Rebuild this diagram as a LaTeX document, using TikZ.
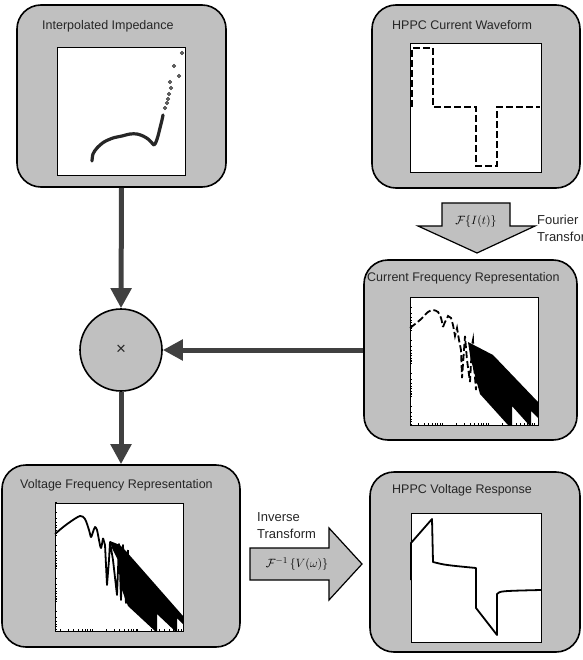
\documentclass[tikz,border=0pt]{standalone}
\usepackage{fontspec}
\setmainfont{Liberation Sans}
\usetikzlibrary{arrows.meta}

\definecolor{panelgray}{RGB}{192,192,192}
\definecolor{flowgray}{RGB}{64,64,64}

\tikzset{
    panel/.style={draw=black, line width=1.6pt, fill=panelgray, rounded corners=24pt, inner sep=0pt},
    plotarea/.style={draw=black, line width=0.8pt, fill=white, inner sep=0pt},
    paneltitle/.style={font=\fontsize{12.5}{15}\selectfont, text=black!85, anchor=west, inner sep=0pt},
    sidetext/.style={font=\fontsize{13}{17}\selectfont, text=black!85, align=left, inner sep=0pt},
    flow/.style={draw=flowgray, line width=5pt, -{Triangle[length=20pt,width=20pt]}},
    blockarrow/.style={draw=black, line width=1.2pt, fill=panelgray},
    curve/.style={black, line width=1.8pt, line join=round},
    dcurve/.style={black, line width=1.8pt, dash pattern=on 7pt off 3pt},
    tick/.style={black, line width=0.4pt}
}

\begin{document}
\begin{tikzpicture}[x=1pt,y=-1pt]
    \useasboundingbox (0,0) rectangle (582,660);

    % panels
    \node[panel, minimum width=209pt, minimum height=182pt] (imp) at (121.5,96) {};
    \node[panel, minimum width=208pt, minimum height=183pt] (curwave) at (476,96.5) {};
    \node[panel, minimum width=213pt, minimum height=180pt] (curfreq) at (470.5,350) {};
    \node[panel, minimum width=238pt, minimum height=182pt] (voltfreq) at (121,556) {};
    \node[panel, minimum width=210pt, minimum height=180pt] (voltresp) at (475,562) {};
    \node[circle, draw=black, line width=1.6pt, fill=panelgray, minimum size=82pt, font=\fontsize{17}{19}\selectfont, text=black!85] (mult) at (121,350) {×};

    \node[paneltitle] (imptitle) at (42,26) {Interpolated Impedance};
    \node[paneltitle] (curwavetitle) at (392,25) {HPPC Current Waveform};
    \node[paneltitle] (curfreqtitle) at (367,278) {Current Frequency Representation};
    \node[paneltitle] (voltfreqtitle) at (20,485) {Voltage Frequency Representation};
    \node[paneltitle] (voltresptitle) at (392,490) {HPPC Voltage Response};

    % plot areas
    \node[plotarea, minimum width=128pt, minimum height=128pt] (impplot) at (121,111) {};
    \node[plotarea, minimum width=131pt, minimum height=129pt] (curwaveplot) at (475.5,107.5) {};
    \node[plotarea, minimum width=128pt, minimum height=128pt] (curfreqplot) at (474,361) {};
    \node[plotarea, minimum width=128pt, minimum height=128pt] (voltfreqplot) at (119,567) {};
    \node[plotarea, minimum width=130pt, minimum height=129pt] (voltrespplot) at (476,577.5) {};

    % impedance
    \draw[black!85, line width=3.2pt, line cap=round, line join=round] plot[smooth] coordinates {(92,161) (93,154) (97,148) (104,142) (113,138) (122,136) (130,134) (137,134) (143,136) (148,139) (152,143) (154,145) (156,142) (158,136) (160,128) (162,120) (163,115)};
    \foreach \p in {(165,108),(167,103),(168,99),(169,94),(171,88),(170,82),(174,66),(179,76),(182,53)}
        \draw[black!85, line width=0.9pt] \p circle (1.5);

    % current waveform
    \draw[dcurve] (412,107) -- (412,48) -- (433,48) -- (433,107) -- (476,107) -- (476,166) -- (497,166) -- (497,107) -- (540,107);

    % current spectrum
    \begin{scope}
        \clip (curfreqplot.south west) rectangle (curfreqplot.north east);
        \fill[black] (468,342) -- (493,355) -- (538,402) -- (538,418) -- (531,411) -- (531,425) -- (529,425) -- (512,406) -- (512,425) -- (508,425) -- (480,394) -- (474,372) -- (470,355) -- cycle;
        \draw[dcurve] plot[smooth] coordinates {(410,328) (420,320) (428,312) (433,310) (438,312) (441,318) (443,327)};
        \draw[dcurve] (443,327) -- (445,322) -- (448,316) -- (451,318) -- (453,325) -- (455,336) -- (457,328) -- (459,340) -- (461,350) -- (462,378) -- (464,350) -- (465,336) -- (467,360) -- (470,382) -- (472,345) -- (473,340) -- (474,365) -- (476,390) -- (478,350);
        \foreach \d in {297,330,363,396}
            \foreach \k in {1,...,9}
                \draw[tick] (410,{\d+33*log10(\k)}) -- ++(2,0);
        \foreach \d in {396,442,488,534}
            \foreach \k in {1,...,9}
                \draw[tick] ({\d+46*log10(\k)},425) -- ++(0,-2);
    \end{scope}

    % voltage spectrum
    \begin{scope}
        \clip (voltfreqplot.south west) rectangle (voltfreqplot.north east);
        \fill[black] (110,541) -- (115,543) -- (120,545) -- (125,550) -- (183,616) -- (183,624) -- (177,618) -- (177,631) -- (175,631) -- (157,614) -- (157,631) -- (155,631) -- (128,606) -- (122,590) -- (118,560) -- (112,548) -- cycle;
        \draw[curve] plot[smooth] coordinates {(55,534) (62,528) (70,522) (80,516) (85,519) (89,530) (91,537) (93,532) (95,527) (97,530) (99,540) (101,548) (103,538)};
        \draw[curve] (103,538) -- (105,545) -- (107,585) -- (109,560) -- (110,542) -- (113,560) -- (117,595) -- (118,570) -- (119,544) -- (120,570) -- (121,600) -- (122,570) -- (123,545) -- (124,575) -- (126,603) -- (127,580) -- (128,550);
        \foreach \d in {502,535,568,601}
            \foreach \k in {1,...,9}
                \draw[tick] (55,{\d+33*log10(\k)}) -- ++(2,0);
        \foreach \d in {46,92,137,183}
            \foreach \k in {1,...,9}
                \draw[tick] ({\d+46*log10(\k)},631) -- ++(0,-2);
    \end{scope}

    % voltage response
    \draw[curve] (411,580) -- (411,543) -- (418,535) -- (432,519) -- (433,562) .. controls (445,565) .. (476,568) -- (476,608) -- (497,635) -- (497,594) .. controls (500,591) .. (541,590);

    % flow arrows
    \draw[flow] (imp.south) -- (mult.north);
    \draw[flow] (curfreq.west) -- (mult.east);
    \draw[flow] (mult.south) -- (voltfreq.north);

    % transform arrows
    \draw[blockarrow] (442,203) -- (510,203) -- (510,226) -- (535,226) -- (477,253) -- (418,226) -- (442,226) -- cycle;
    \node[font=\fontsize{13}{15}\selectfont] (fwdlabel) at (476,221) {$\mathcal{F}\{I(t)\}$};
    \node[sidetext, anchor=north west] (fwdside) at (537,215) {Fourier\\Transform};

    \draw[blockarrow] (250,548) -- (329,548) -- (329,528) -- (362,564) -- (329,600) -- (329,580) -- (250,580) -- cycle;
    \node[font=\fontsize{13}{15}\selectfont] (invlabel) at (297,564) {$\mathcal{F}^{-1}\,\{V(\omega)\}$};
    \node[sidetext, anchor=north west] (invside) at (257,512) {Inverse\\Transform};
\end{tikzpicture}
\end{document}
